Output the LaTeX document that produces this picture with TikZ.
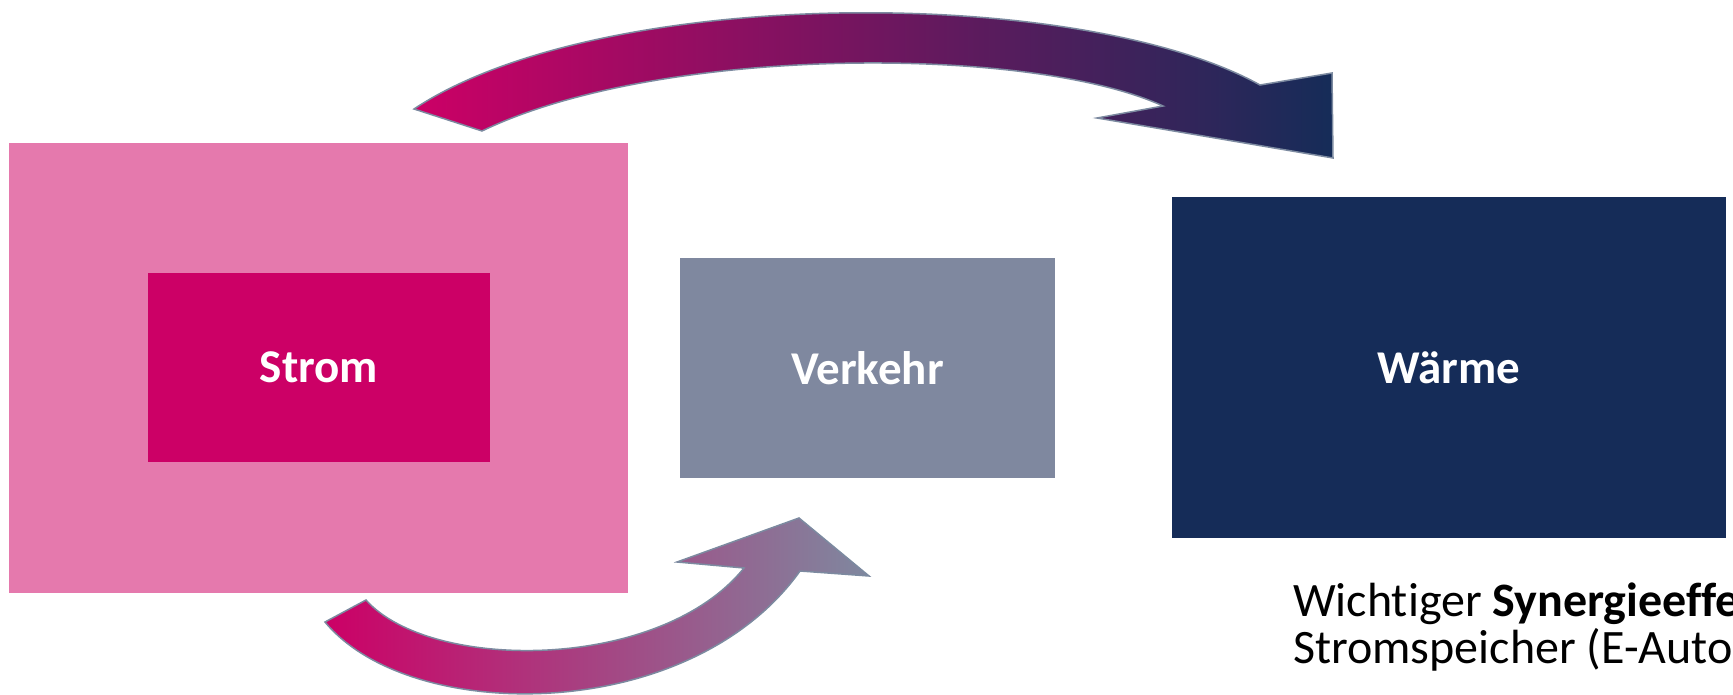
\documentclass[tikz,border=0pt]{standalone}
\usepackage{fontspec}
\setmainfont{Carlito}[Ligatures=NoCommon]
\definecolor{pinkbg}{HTML}{E579AD}
\definecolor{magenta}{HTML}{CC0066}
\definecolor{greyblue}{HTML}{7F889F}
\definecolor{navy}{HTML}{152C58}
\definecolor{edge}{HTML}{7C8AA0}
\tikzset{
  box/.style={rectangle, inner sep=0pt, outer sep=0pt, draw=none, text=white,
    font=\fontsize{47}{50}\selectfont\bfseries},
  blockarrow/.style={draw=edge, line width=1.5pt, line join=miter}
}
\begin{document}
\begin{tikzpicture}[x=1pt,y=-1pt]
\useasboundingbox (0,0) rectangle (1733,695);
% boxes
\node[box, fill=pinkbg, minimum width=619pt, minimum height=450pt, anchor=north west] (outer) at (9,143) {};
\node[box, fill=magenta, minimum width=342pt, minimum height=189pt, anchor=north west] (strom) at (148,273) {Strom};
\node[box, fill=greyblue, minimum width=375pt, minimum height=220pt, anchor=north west] (verkehr) at (680,258) {Verkehr};
\node[box, fill=navy, minimum width=554pt, minimum height=341pt, anchor=north west] (waerme) at (1172,197) {Wärme};
% top arrow
\shadedraw[blockarrow, left color=magenta, right color=navy]
  (414,109) .. controls (600,-15) and (1080,-15) .. (1260,85)
  -- (1332,73) -- (1333,158) -- (1097,118) -- (1163,106)
  .. controls (1030,45) and (660,45) .. (482,131) -- cycle;
% bottom arrow
\shadedraw[blockarrow, left color=magenta, right color=greyblue]
  (325,622) .. controls (410,725) and (690,725) .. (800,571)
  -- (869,576) -- (799,518) -- (677,562) -- (744,568)
  .. controls (660,672) and (430,672) .. (366,600) -- cycle;
% text
\node[anchor=base west, inner sep=0pt, font=\fontsize{48}{47}\selectfont, align=left] (note) at (1293,663)
  {Wichtiger \textbf{Synergieeffe}\\Stromspeicher (E-Auto};
\end{tikzpicture}
\end{document}
